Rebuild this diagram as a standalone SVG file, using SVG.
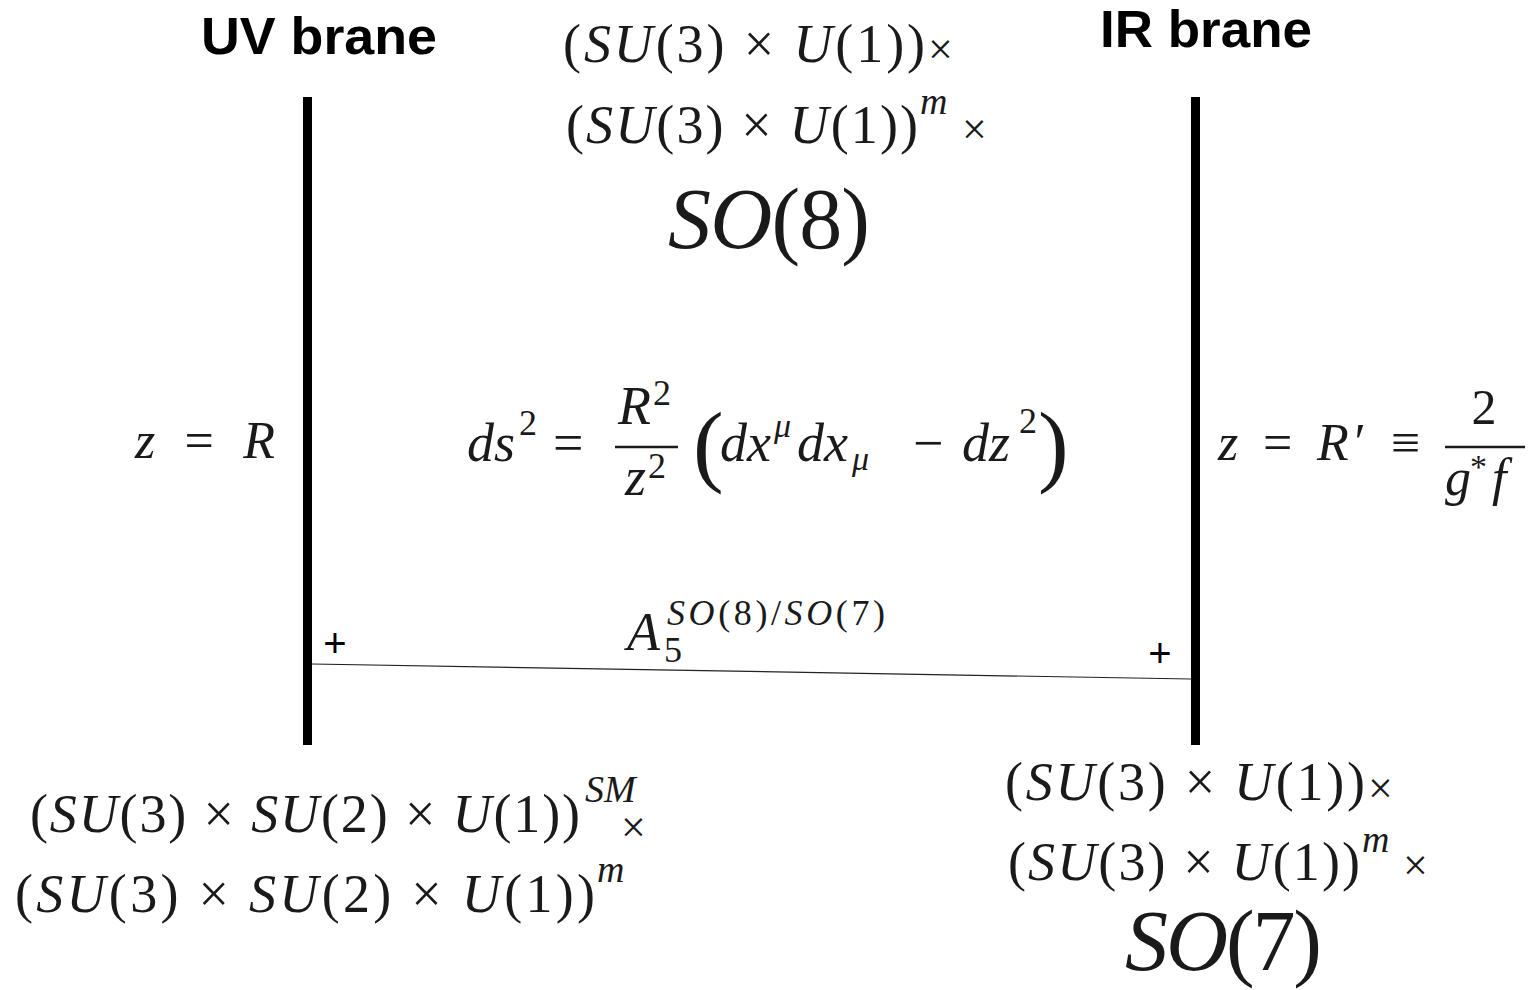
<svg xmlns="http://www.w3.org/2000/svg" width="1533" height="990" viewBox="0 0 1533 990">
<style>
.m{font-family:"Liberation Serif","DejaVu Serif",serif;fill:#1a1a1a}
.i{font-style:italic}
.t{font-family:"Liberation Sans",Arial,sans-serif;font-weight:bold;font-size:52px;fill:#000}
.p{font-family:"Liberation Sans",Arial,sans-serif;font-size:40px;fill:#000}
.brane{stroke:#000;stroke-width:9}
</style>
<rect width="1533" height="990" fill="#fff"/>
<g id="uv-brane">
<text class="t" x="319" y="54" text-anchor="middle" textLength="236" lengthAdjust="spacingAndGlyphs">UV brane</text>
<line class="brane" x1="307.5" y1="97" x2="307.5" y2="745"/>
<text class="p" x="335" y="657" text-anchor="middle">+</text>
<text class="m" x="135" y="458" font-size="52" textLength="140" lengthAdjust="spacing"><tspan class="i">z</tspan> = <tspan class="i">R</tspan></text>
</g>
<g id="ir-brane">
<text class="t" x="1206" y="47" text-anchor="middle" textLength="212" lengthAdjust="spacingAndGlyphs">IR brane</text>
<line class="brane" x1="1195.5" y1="97" x2="1195.5" y2="745"/>
<text class="p" x="1160" y="667" text-anchor="middle">+</text>
<text class="m" x="1218" y="460" font-size="52" textLength="202" lengthAdjust="spacing"><tspan class="i">z</tspan> = <tspan class="i">R</tspan>′ ≡</text>
<text class="m" x="1484" y="424" font-size="50" text-anchor="middle">2</text>
<line x1="1445" y1="447" x2="1525" y2="447" stroke="#1a1a1a" stroke-width="2.5"/>
<text class="m i" x="1445" y="495" font-size="52">g</text>
<text class="m" x="1470" y="478" font-size="34">*</text>
<text class="m i" x="1492" y="495" font-size="52">f</text>
</g>
<g id="bulk">
<text class="m" x="563" y="62" font-size="54" textLength="362" lengthAdjust="spacing">(<tspan class="i">SU</tspan>(3) × <tspan class="i">U</tspan>(1))</text>
<text class="m" x="928" y="64" font-size="44">×</text>
<text class="m" x="566" y="143" font-size="54" textLength="352" lengthAdjust="spacing">(<tspan class="i">SU</tspan>(3) × <tspan class="i">U</tspan>(1))</text>
<text class="m i" x="920" y="114" font-size="38">m</text>
<text class="m" x="962" y="144" font-size="44">×</text>
<text class="m" x="668" y="248" font-size="86" textLength="202" lengthAdjust="spacing"><tspan class="i">SO</tspan>(8)</text>
</g>
<g id="metric">
<text class="m i" x="467" y="461" font-size="54">ds</text>
<text class="m" x="519" y="435" font-size="36">2</text>
<text class="m" x="553" y="461" font-size="54">=</text>
<text class="m" x="618" y="424" font-size="54"><tspan class="i">R</tspan></text>
<text class="m" x="653" y="405" font-size="36">2</text>
<line x1="615" y1="447" x2="678" y2="447" stroke="#1a1a1a" stroke-width="2.5"/>
<text class="m i" x="625" y="495" font-size="54">z</text>
<text class="m" x="648" y="478" font-size="36">2</text>
<text class="m" x="693" y="475" font-size="92">(</text>
<text class="m i" x="720" y="461" font-size="54">dx</text>
<text class="m i" x="774" y="437" font-size="34">μ</text>
<text class="m i" x="797" y="461" font-size="54">dx</text>
<text class="m i" x="852" y="470" font-size="34">μ</text>
<text class="m" x="913" y="461" font-size="54">−</text>
<text class="m i" x="962" y="461" font-size="54">dz</text>
<text class="m" x="1019" y="433" font-size="36">2</text>
<text class="m" x="1038" y="475" font-size="92">)</text>
</g>
<g id="connectors">
<line x1="312" y1="664" x2="1191" y2="679" stroke="#222" stroke-width="1.2"/>
</g>
<g id="a5-label">
<text class="m i" x="627" y="650" font-size="54">A</text>
<text class="m" x="664" y="662" font-size="36">5</text>
<text class="m" x="667" y="625" font-size="36" textLength="218" lengthAdjust="spacing"><tspan class="i">SO</tspan>(8)/<tspan class="i">SO</tspan>(7)</text>
</g>
<g id="uv-groups">
<text class="m" x="30" y="832" font-size="54" textLength="550" lengthAdjust="spacing">(<tspan class="i">SU</tspan>(3) × <tspan class="i">SU</tspan>(2) × <tspan class="i">U</tspan>(1))</text>
<text class="m i" x="585" y="802" font-size="38">SM</text>
<text class="m" x="621" y="842" font-size="44">×</text>
<text class="m" x="15" y="912" font-size="54" textLength="580" lengthAdjust="spacing">(<tspan class="i">SU</tspan>(3) × <tspan class="i">SU</tspan>(2) × <tspan class="i">U</tspan>(1))</text>
<text class="m i" x="597" y="882" font-size="38">m</text>
</g>
<g id="ir-groups">
<text class="m" x="1005" y="800" font-size="54" textLength="360" lengthAdjust="spacing">(<tspan class="i">SU</tspan>(3) × <tspan class="i">U</tspan>(1))</text>
<text class="m" x="1368" y="803" font-size="44">×</text>
<text class="m" x="1008" y="880" font-size="54" textLength="352" lengthAdjust="spacing">(<tspan class="i">SU</tspan>(3) × <tspan class="i">U</tspan>(1))</text>
<text class="m i" x="1362" y="852" font-size="38">m</text>
<text class="m" x="1403" y="880" font-size="44">×</text>
<text class="m" x="1125" y="970" font-size="86" textLength="197" lengthAdjust="spacing"><tspan class="i">SO</tspan>(7)</text>
</g>
</svg>
